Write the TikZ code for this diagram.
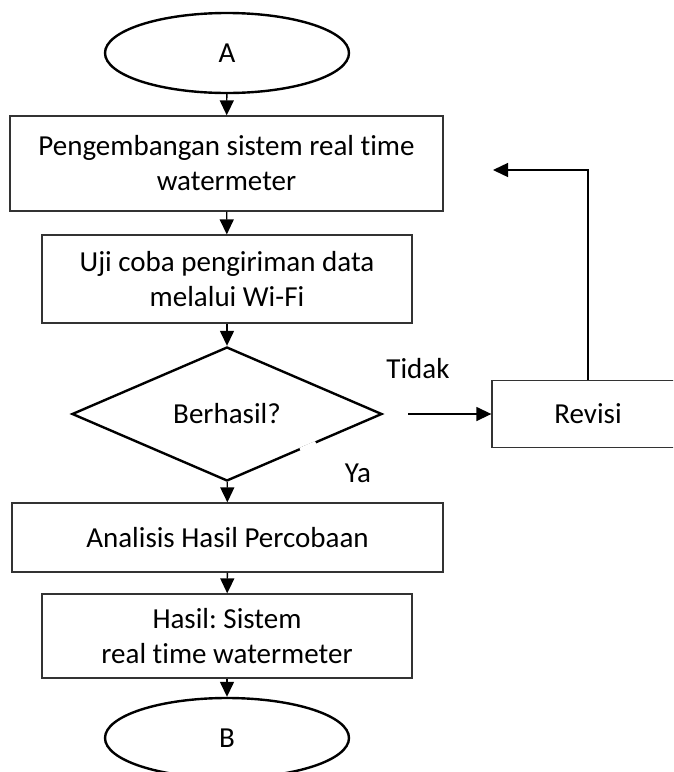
\documentclass[tikz,border=0pt]{standalone}
\usepackage{fontspec}
\setmainfont{Carlito}[Ligatures=NoCommon]
\usetikzlibrary{arrows.meta,shapes.geometric,calc}
\tikzstyle{process} = [draw=black!80, line width=1.3pt, align=center, inner sep=0pt]
\tikzstyle{terminal} = [draw, ellipse, line width=2.4pt, minimum width=244pt, minimum height=80pt, inner sep=0pt]
\tikzstyle{decision} = [draw, diamond, aspect=2.3, line width=2.4pt, minimum width=310pt, minimum height=134pt, inner sep=0pt]
\tikzstyle{line} = [draw, line width=1.4pt, -{Triangle[length=15pt,width=14pt]}]
\frenchspacing

\begin{document}
\begin{tikzpicture}[x=1pt, y=-1pt, font=\fontsize{29}{35}\selectfont]
	\useasboundingbox (0,0) rectangle (673,772);
	\clip (0,0) rectangle (673,772);
	\node [terminal] (A) at (227,53) {A};
	\node [process, minimum width=433pt, minimum height=95pt] (dev) at (226.5,163.5) {Pengembangan sistem real time\\watermeter};
	\node [process, minimum width=370pt, minimum height=88pt] (test) at (227,279) {Uji coba pengiriman data\\melalui Wi-Fi};
	\node [decision] (dec) at (227,414) {Berhasil?};
	\node [process, minimum width=431pt, minimum height=69pt] (anl) at (227.5,537.5) {Analisis Hasil Percobaan};
	\node [process, minimum width=370pt, minimum height=84pt] (res) at (227,636) {Hasil: Sistem\\real time watermeter};
	\node [terminal] (B) at (227,738) {B};
	\node [process, minimum width=192pt, minimum height=67pt] (rev) at (588,414) {Revisi};
	\node (no) at (418,369) {Tidak};
	\node (yes) at (358,473) {Ya};
	\coordinate (back) at (493,170);
	% break in the lower right edge of the diamond
	\draw [white, line width=5pt] ($(dec.south)!0.47!(dec.east)$) -- ($(dec.south)!0.57!(dec.east)$);
	\draw [line] (A) -- (dev);
	\draw [line] (dev) -- (test);
	\draw [line] (test) -- (dec);
	\draw [line] (dec) -- (anl);
	\draw [line] (anl) -- (res);
	\draw [line] (res) -- (B);
	\draw [line, shorten <=25pt] (dec.east) -- (rev.west);
	\draw [line] (rev.north) |- (back);
\end{tikzpicture}
\end{document}
